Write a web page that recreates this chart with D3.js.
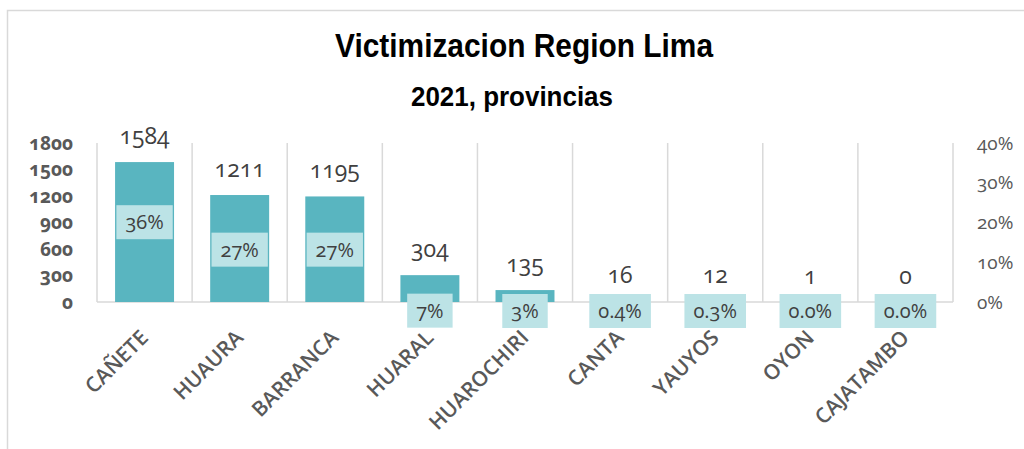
<!DOCTYPE html>
<html lang="es">
	<head>
		<meta charset="utf-8">
		<title>Victimizacion Region Lima</title>
		<script type="text/javascript" src="https://d3js.org/d3.v7.min.js"></script>
		<style type="text/css">
			body{ margin:0; background:#fff; }
			.num{ font-family:"Open Sans", "Noto Sans", sans-serif; font-variant-numeric:oldstyle-nums; }
		</style>
	</head>
	<body>
		<script type="text/javascript">

			var provincias = ["CAÑETE","HUAURA","BARRANCA","HUARAL","HUAROCHIRI","CANTA","YAUYOS","OYON","CAJATAMBO"];
			var casos = [1584, 1211, 1195, 304, 135, 16, 12, 1, 0];
			var porcentaje = [0.36, 0.27, 0.27, 0.07, 0.03, 0.004, 0.003, 0.0, 0.0];
			var pctTexto = ["36%","27%","27%","7%","3%","0.4%","0.3%","0.0%","0.0%"];
			var ticksIzq = [0, 300, 600, 900, 1200, 1500, 1800];
			var ticksDer = [0, 0.1, 0.2, 0.3, 0.4];

			var w = 1024;
			var h = 449;

			var svg = d3.select("body")
						.append("svg")
						.attr("width", w)
						.attr("height", h);

			// marco del grafico
			svg.append("rect")
				.attr("x", 7.5).attr("y", 10.5)
				.attr("width", w + 20).attr("height", h + 20)
				.style("fill", "none")
				.style("stroke", "#d9d9d9")
				.style("stroke-width", 1.5);

			// titulos
			svg.append("text")
				.attr("x", 524).attr("y", 57)
				.attr("text-anchor", "middle")
				.attr("textLength", 378)
				.attr("lengthAdjust", "spacingAndGlyphs")
				.style("font-family", "'Liberation Sans Narrow', 'Liberation Sans', Arial, sans-serif")
				.style("font-weight", "bold")
				.style("font-size", "33px")
				.style("fill", "#000")
				.text("Victimizacion Region Lima");

			svg.append("text")
				.attr("x", 512).attr("y", 106)
				.attr("text-anchor", "middle")
				.attr("textLength", 202)
				.attr("lengthAdjust", "spacingAndGlyphs")
				.style("font-family", "'Liberation Sans Narrow', 'Liberation Sans', Arial, sans-serif")
				.style("font-weight", "bold")
				.style("font-size", "27px")
				.style("fill", "#000")
				.text("2021, provincias");

			var pLeft = 97, pRight = 953, pTop = 143, pBottom = 302;

			var x = d3.scaleBand()
						.domain(provincias)
						.range([pLeft, pRight])
						.paddingInner(0.38)
						.paddingOuter(0.19);

			var y = d3.scaleLinear()
						.domain([0, 1800])
						.range([pBottom, pTop]);

			var yDer = d3.scaleLinear()
						.domain([0, 0.4])
						.range([pBottom, pTop]);

			// escala de las etiquetas de porcentaje (serie secundaria)
			var yPct = d3.scaleLinear()
						.domain([0, 0.4])
						.range([332, 210]);

			var paso = (pRight - pLeft) / provincias.length;

			// lineas verticales entre categorias
			svg.selectAll("line.grid")
				.data(d3.range(provincias.length + 1))
				.enter()
				.append("line")
				.attr("class", "grid")
				.attr("x1", function(i){ return pLeft + i * paso; })
				.attr("x2", function(i){ return pLeft + i * paso; })
				.attr("y1", pTop)
				.attr("y2", pBottom)
				.style("stroke", "#d9d9d9")
				.style("stroke-width", 1.5);

			svg.append("line")
				.attr("x1", pLeft).attr("x2", pRight)
				.attr("y1", pBottom).attr("y2", pBottom)
				.style("stroke", "#d9d9d9")
				.style("stroke-width", 1.5);

			// barras
			svg.selectAll("rect.bar")
				.data(casos)
				.enter()
				.append("rect")
				.attr("class", "bar")
				.attr("x", function(d, i){ return x(provincias[i]); })
				.attr("y", function(d){ return y(d); })
				.attr("width", x.bandwidth())
				.attr("height", function(d){ return pBottom - y(d); })
				.style("fill", "#59b5c0");

			// valores sobre las barras
			svg.selectAll("text.valor")
				.data(casos)
				.enter()
				.append("text")
				.attr("class", "valor num")
				.attr("x", function(d, i){ return x(provincias[i]) + x.bandwidth() / 2; })
				.attr("y", function(d){ return y(d) - 18; })
				.attr("text-anchor", "middle")
				.style("font-size", "23px")
				.style("fill", "#404040")
				.text(function(d){ return d; });

			// etiquetas de categoria (debajo de las cajas de porcentaje)
			svg.selectAll("text.cat")
				.data(provincias)
				.enter()
				.append("text")
				.attr("class", "cat")
				.attr("transform", function(d){
					var cx = x(d) + x.bandwidth() / 2 + 5;
					return "translate(" + cx + ",339) rotate(-45)";
				})
				.attr("text-anchor", "end")
				.style("font-family", "'Open Sans', 'Noto Sans', sans-serif")
				.style("font-weight", "600")
				.style("font-size", "21px")
				.style("fill", "#595959")
				.text(function(d){ return d; });

			// etiquetas de porcentaje
			var pct = svg.selectAll("g.pct")
				.data(porcentaje)
				.enter()
				.append("g")
				.attr("class", "pct")
				.attr("transform", function(d, i){
					var cx = x(provincias[i]) + x.bandwidth() / 2;
					var cy = Math.min(yPct(d), 311);
					return "translate(" + cx + "," + cy + ")";
				});

			pct.append("text")
				.attr("class", "num")
				.attr("text-anchor", "middle")
				.attr("dy", "0.35em")
				.style("font-size", "20px")
				.style("fill", "#404040")
				.text(function(d, i){ return pctTexto[i]; });

			pct.each(function(){
				var g = d3.select(this);
				var b = g.select("text").node().getBBox();
				g.insert("rect", "text")
					.attr("x", b.x - 9)
					.attr("y", -17)
					.attr("width", b.width + 18)
					.attr("height", 34)
					.style("fill", "#bce3e6");
			});

			// eje izquierdo
			svg.selectAll("text.tickIzq")
				.data(ticksIzq)
				.enter()
				.append("text")
				.attr("class", "tickIzq num")
				.attr("x", 73)
				.attr("y", function(d){ return y(d); })
				.attr("dy", "0.35em")
				.attr("text-anchor", "end")
				.style("font-size", "19px")
				.style("font-weight", "bold")
				.style("fill", "#595959")
				.text(function(d){ return d; });

			// eje derecho
			svg.selectAll("text.tickDer")
				.data(ticksDer)
				.enter()
				.append("text")
				.attr("class", "tickDer num")
				.attr("x", 977)
				.attr("y", function(d){ return yDer(d); })
				.attr("dy", "0.35em")
				.style("font-size", "19px")
				.style("fill", "#595959")
				.text(function(d){ return d3.format(".0%")(d); });

		</script>
	</body>
</html>
